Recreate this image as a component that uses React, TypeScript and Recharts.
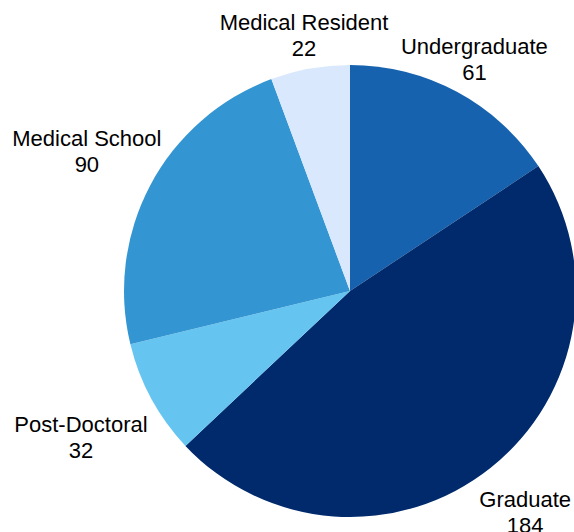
import { PieChart, Pie, Cell } from "recharts"

const categories = ["Undergraduate", "Graduate", "Post-Doctoral", "Medical School", "Medical Resident"]
const counts = [61, 184, 32, 90, 22]

const colors = ["#1762ae", "#002a6c", "#66c5f0", "#3396d2", "#d9e8fc"]
// how far past the rim each label sits (px)
const labelGap: Record<string, number> = {
  Undergraduate: 37,
  Graduate: 56,
  "Post-Doctoral": 80,
  "Medical School": 72,
  "Medical Resident": 34
}

const data = categories.map((name, i) => ({ name, value: counts[i] }))

const RAD = Math.PI / 180

function renderLabel(props: any) {
  const { cx, cy, midAngle, outerRadius, name, value } = props
  const r = outerRadius + (labelGap[name] ?? 40)
  const x = cx + r * Math.cos(-midAngle * RAD)
  const y = cy + r * Math.sin(-midAngle * RAD)
  return (
    <text
      x={x}
      y={y}
      textAnchor="middle"
      fill="#000"
      style={{ fontFamily: "Liberation Sans, Arial, sans-serif", fontSize: 22 }}
    >
      <tspan x={x} y={y - 5}>{name}</tspan>
      <tspan x={x} y={y + 21}>{value}</tspan>
    </text>
  )
}

export default function App() {
  return (
    <div style={{ position: "absolute", left: 0, top: 0, width: 574, height: 532, background: "#fff" }}>
      <PieChart width={574} height={532} margin={{ top: 0, right: 0, bottom: 0, left: 0 }}>
        <Pie
          data={data}
          dataKey="value"
          nameKey="name"
          cx={350}
          cy={291}
          outerRadius={226}
          startAngle={90}
          endAngle={-270}
          stroke="none"
          label={renderLabel}
          labelLine={false}
          isAnimationActive={false}
        >
          {data.map((d, i) => (
            <Cell key={d.name} fill={colors[i]} />
          ))}
        </Pie>
      </PieChart>
    </div>
  )
}
